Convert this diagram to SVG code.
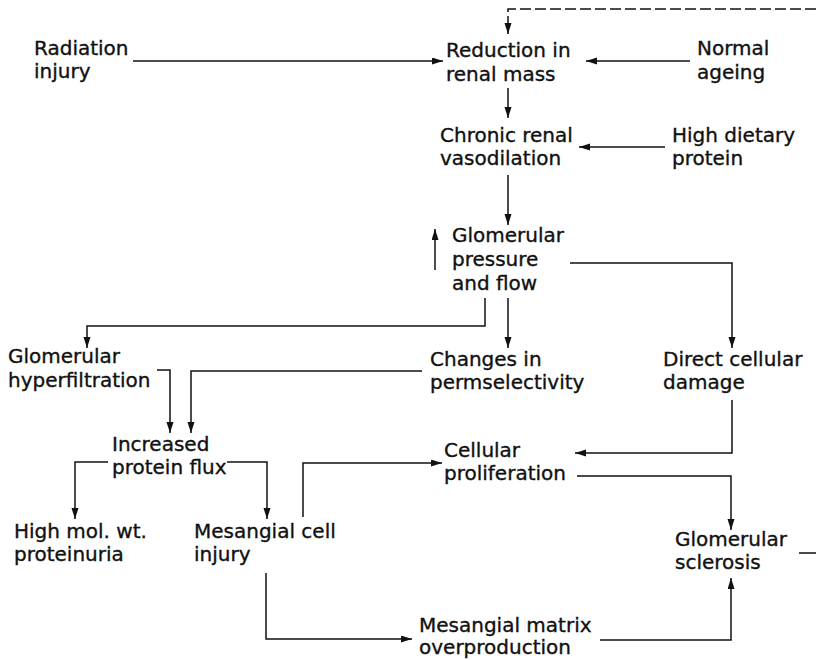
<svg xmlns="http://www.w3.org/2000/svg" width="816" height="660" viewBox="0 0 816 660">
<defs>
<marker id="ah" markerUnits="userSpaceOnUse" markerWidth="12" markerHeight="8" refX="11" refY="3.5" orient="auto">
<path d="M0,0 L11,3.5 L0,7 z" fill="#111"/>
</marker>
<style>
text{font-family:"DejaVu Sans","Liberation Sans",sans-serif;font-size:20px;fill:#111;stroke:#111;stroke-width:0.35}
.c path{fill:none;stroke:#111;stroke-width:1.5}
.c .a{marker-end:url(#ah)}
.c .d{stroke-dasharray:11 4}
</style>
</defs>
<rect width="816" height="660" fill="#fff"/>
<g id="radiation"><text x="34" y="55">Radiation</text><text x="34" y="78">injury</text></g>
<g id="reduction"><text x="446" y="57">Reduction in</text><text x="446" y="81">renal mass</text></g>
<g id="ageing"><text x="697" y="55">Normal</text><text x="697" y="79">ageing</text></g>
<g id="vasodilation"><text x="440" y="142">Chronic renal</text><text x="440" y="165">vasodilation</text></g>
<g id="protein"><text x="672" y="142">High dietary</text><text x="672" y="165">protein</text></g>
<g id="pressure"><text x="452" y="242">Glomerular</text><text x="452" y="266">pressure</text><text x="452" y="290">and flow</text></g>
<g id="hyperfiltration"><text x="8" y="363">Glomerular</text><text x="8" y="387">hyperfiltration</text></g>
<g id="permselectivity"><text x="430" y="366">Changes in</text><text x="430" y="389">permselectivity</text></g>
<g id="damage"><text x="663" y="366">Direct cellular</text><text x="663" y="389">damage</text></g>
<g id="flux"><text x="112" y="451">Increased</text><text x="112" y="474">protein flux</text></g>
<g id="proliferation"><text x="444" y="457">Cellular</text><text x="444" y="480">proliferation</text></g>
<g id="proteinuria"><text x="14" y="538">High mol. wt.</text><text x="14" y="561">proteinuria</text></g>
<g id="mesangial"><text x="194" y="538">Mesangial cell</text><text x="194" y="561">injury</text></g>
<g id="sclerosis"><text x="675" y="546">Glomerular</text><text x="675" y="569">sclerosis</text></g>
<g id="matrix"><text x="419" y="632">Mesangial matrix</text><text x="419" y="654">overproduction</text></g>
<g id="connectors" class="c">
<path class="a" d="M133,61 H443"/>
<path class="a" d="M690,61 H586"/>
<path class="a d" d="M816,9 H508 V34"/>
<path class="a" d="M508,88 V118"/>
<path class="a" d="M665,147 H579"/>
<path class="a" d="M508,175 V225"/>
<path class="a" d="M435,270 V229"/>
<path class="a" d="M570,263 H732 V348"/>
<path class="a" d="M508,298 V348"/>
<path class="a" d="M485,298 V326 H87 V348"/>
<path class="a" d="M157,370 H170 V433"/>
<path class="a" d="M422,371 H191 V433"/>
<path class="a" d="M732,400 V453 H575"/>
<path class="a" d="M108,462 H75 V519"/>
<path class="a" d="M227,462 H267 V519"/>
<path class="a" d="M303,517 V463 H442"/>
<path class="a" d="M577,476 H731 V530"/>
<path class="a" d="M266,573 V639 H412"/>
<path class="a" d="M600,640 H731 V578"/>
<path d="M799,553 H816"/>
</g>
</svg>
